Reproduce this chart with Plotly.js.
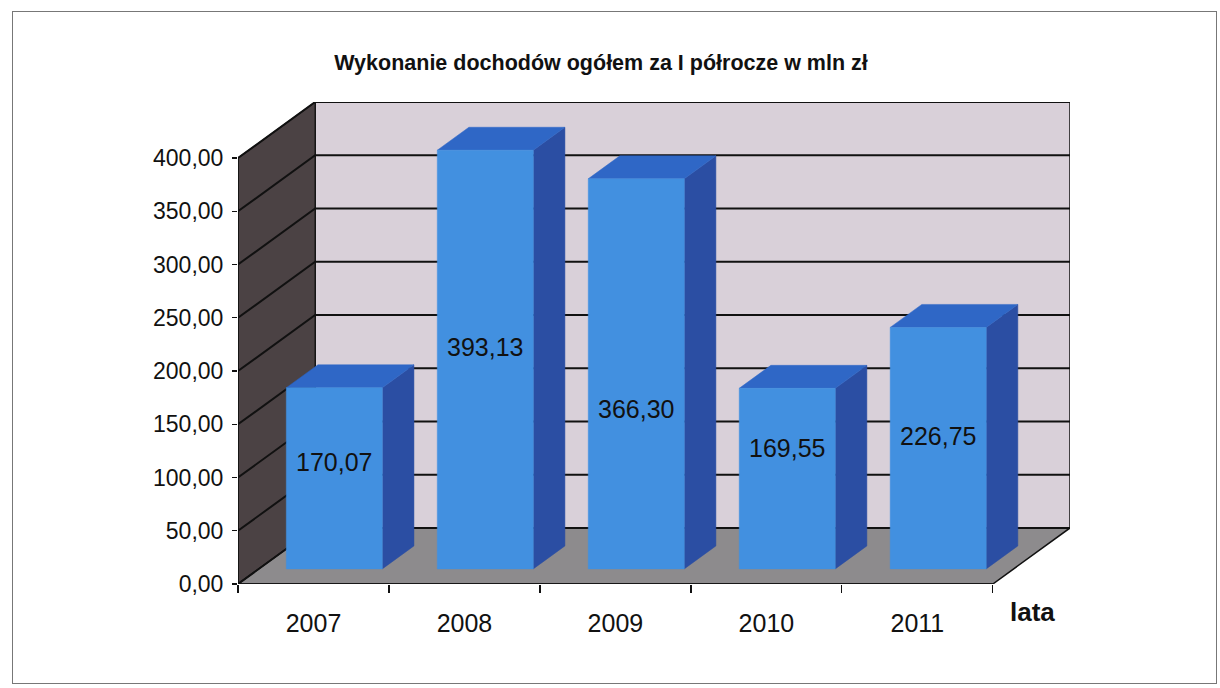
<!DOCTYPE html>
<html>
<head>
<meta charset="utf-8">
<script src="https://cdn.plot.ly/plotly-3.0.1.min.js"></script>
<style>
  html, body { margin: 0; padding: 0; background: #ffffff; }
  #frame { position: absolute; left: 12px; top: 11px; width: 1205px; height: 673px; border: 1px solid #777; box-sizing: border-box; }
  #chart { position: absolute; left: 0; top: 0; width: 1220px; height: 688px; }
</style>
</head>
<body>
<div id="frame"></div>
<div id="chart"></div>
<script>
// ---- data ----
const years = ['2007', '2008', '2009', '2010', '2011'];
const values = [170.07, 393.13, 366.30, 169.55, 226.75];
const yTickVals = [0, 50, 100, 150, 200, 250, 300, 350, 400];
const chartTitle = 'Wykonanie dochodów ogółem za I półrocze w mln zł';
const xAxisLabel = 'lata';

// ---- 3D look (style/geometry, not data) ----
const YTOP = 400;          // top of the walls in value units
const DX = 0.511;          // full depth shift along x (category units)
const DY = 52.6;           // full depth shift along y (value units)
const F0 = 0.27, F1 = 0.68; // bar front/back depth fractions
const HALF = 0.318;        // half bar width (category units)
const labelYFrac = [0.59, 0.53, 0.41, 0.67, 0.55]; // where each value label sits on its bar

const C = {
  back: '#d9d0d9', left: '#4b4244', floor: '#8d8b8d',
  front: '#4290e0', side: '#2b4ea3', top: '#2f67c6', edge: '#111111'
};

const n = years.length;
const X0 = -0.5, X1 = n - 0.5;
const traces = [];

function poly(xs, ys, fill, lineColor, lineW) {
  traces.push({
    type: 'scatter', mode: 'lines', x: xs.concat([xs[0]]), y: ys.concat([ys[0]]),
    fill: 'toself', fillcolor: fill,
    line: { color: lineColor || fill, width: lineW === undefined ? 0.5 : lineW },
    hoverinfo: 'skip', showlegend: false
  });
}

// back wall
poly([X0 + DX, X1 + DX, X1 + DX, X0 + DX], [DY, DY, YTOP + DY, YTOP + DY], C.back, C.edge, 1.5);
// left wall
poly([X0, X0 + DX, X0 + DX, X0], [0, DY, YTOP + DY, YTOP], C.left, C.edge, 1.2);
// floor
poly([X0, X1, X1 + DX, X0 + DX], [0, 0, DY, DY], C.floor, C.edge, 1.5);

// gridlines (back wall + left wall diagonals)
const gx = [], gy = [];
yTickVals.forEach(v => {
  gx.push(X0, X0 + DX, X1 + DX, null);
  gy.push(v, v + DY, v + DY, null);
});
traces.push({ type: 'scatter', mode: 'lines', x: gx, y: gy, line: { color: '#111', width: 2 }, hoverinfo: 'skip', showlegend: false });

// bars
values.forEach((v, i) => {
  const xl = i - HALF, xr = i + HALF;
  // side
  poly([xr + F0 * DX, xr + F1 * DX, xr + F1 * DX, xr + F0 * DX],
       [F0 * DY, F1 * DY, v + F1 * DY, v + F0 * DY], C.side);
  // top
  poly([xl + F0 * DX, xr + F0 * DX, xr + F1 * DX, xl + F1 * DX],
       [v + F0 * DY, v + F0 * DY, v + F1 * DY, v + F1 * DY], C.top);
  // front
  poly([xl + F0 * DX, xr + F0 * DX, xr + F0 * DX, xl + F0 * DX],
       [F0 * DY, F0 * DY, v + F0 * DY, v + F0 * DY], C.front);
});

// front axes lines
traces.push({ type: 'scatter', mode: 'lines', x: [X0, X0, null, X0, X1], y: [YTOP, 0, null, 0, 0],
  line: { color: '#111', width: 1.5 }, hoverinfo: 'skip', showlegend: false });

const fmt = v => v.toFixed(2).replace('.', ',');

const annotations = values.map((v, i) => ({
  x: i + F0 * DX, y: F0 * DY + v * labelYFrac[i], xref: 'x', yref: 'y',
  xanchor: 'center', yanchor: 'middle',
  text: fmt(v), showarrow: false,
  font: { family: 'Liberation Sans, Arial, sans-serif', size: 25, color: '#111' }
}));

const W = 1220, H = 688;
const L = 238, R = 1220 - 1070, T = 102, B = 688 - 584;
// axis label "lata", placed by pixel then converted to paper units
annotations.push({
  x: (1032 - L) / (W - L - R), y: (H - B - 612) / (H - T - B),
  xref: 'paper', yref: 'paper', xanchor: 'center', yanchor: 'middle',
  text: '<b>' + xAxisLabel + '</b>', showarrow: false,
  font: { family: 'Liberation Sans, Arial, sans-serif', size: 26, color: '#111' }
});

const layout = {
  width: W, height: H,
  margin: { l: L, r: R, t: T, b: B },
  paper_bgcolor: 'rgba(0,0,0,0)', plot_bgcolor: 'rgba(0,0,0,0)',
  separators: ', ',
  title: {
    text: '<b>' + chartTitle + '</b>',
    x: 601 / W, xanchor: 'center', xref: 'container',
    y: 1 - 62 / H, yanchor: 'middle', yref: 'container',
    font: { family: 'Liberation Sans, Arial, sans-serif', size: 21.5, color: '#111' }
  },
  xaxis: {
    range: [X0, X1 + DX], showgrid: false, zeroline: false, showline: false,
    tickmode: 'array', tickvals: years.map((_, i) => i), ticktext: years,
    ticks: '', ticklabelstandoff: 22,
    tickfont: { family: 'Liberation Sans, Arial, sans-serif', size: 25, color: '#111' },
    minor: { tickmode: 'array', tickvals: years.map((_, i) => i - 0.5).concat([X1]), ticks: 'outside', ticklen: 8, tickcolor: '#111', tickwidth: 1.2, showgrid: false },
    fixedrange: true
  },
  yaxis: {
    range: [0, YTOP + DY], showgrid: false, zeroline: false, showline: false,
    tickmode: 'array', tickvals: yTickVals, ticktext: yTickVals.map(fmt),
    ticks: 'outside', ticklen: 5, tickcolor: '#111', tickwidth: 1.2, ticklabelstandoff: 4,
    tickfont: { family: 'Liberation Sans, Arial, sans-serif', size: 23, color: '#111' },
    fixedrange: true
  },
  annotations: annotations,
  showlegend: false
};

Plotly.newPlot('chart', traces, layout, { displayModeBar: false, staticPlot: true });
</script>
</body>
</html>
